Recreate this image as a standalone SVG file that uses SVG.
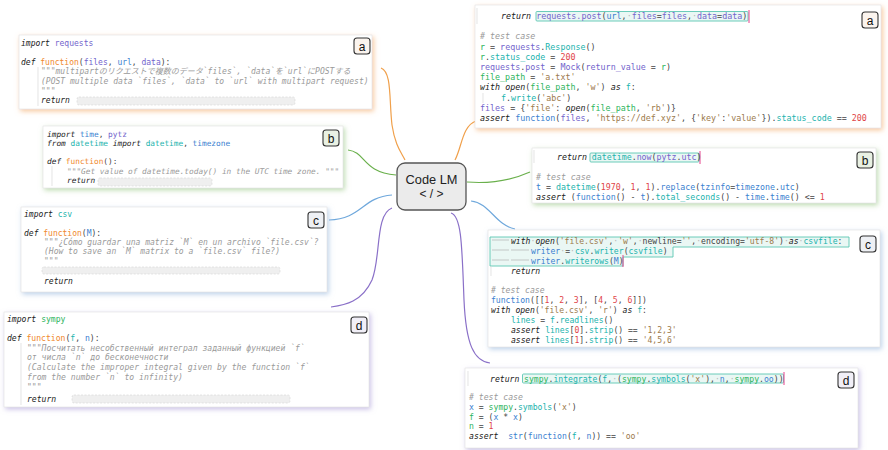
<svg xmlns="http://www.w3.org/2000/svg" width="888" height="450" viewBox="0 0 888 450">
<style>
text{white-space:pre}
.code{font-family:"DejaVu Sans Mono","Noto Sans CJK JP",monospace;fill:#444}
.k{font-style:italic;fill:#1a1a1a}
.c{font-style:italic;fill:#9a9a9a}
.fn{fill:#f0882c}
.pu{fill:#7264cc}
.bl{fill:#3b7fd0}
.gr{fill:#2cb45c}
.te{fill:#21b3ad}
.st{fill:#9c7a4c}
.nm{fill:#e04448}
.dt{fill:#b8b8b8}
.panel{fill:#fff;stroke:#e2e2e2;stroke-width:.6}
.ph{fill:#efefef;stroke:#d3d3d3;stroke-width:.6;stroke-dasharray:2 1.5}
.hl{fill:#eaf7f4;stroke:#5cc6b2;stroke-width:.9}
.cur{stroke:#e5428c;stroke-width:1}
.guide{stroke:#d8d8d8;stroke-width:.7}
.tab{stroke:#aaa;stroke-width:.6}
.lab rect{stroke:#333;stroke-width:1.1}
.lab text{font-family:"Liberation Sans",Arial,sans-serif;font-size:12px;fill:#111;text-anchor:middle}
.conn path{fill:none;stroke-width:1.2}
</style>
<defs>
<filter id="shO" x="-10%" y="-20%" width="120%" height="140%"><feDropShadow dx="1.5" dy="2" stdDeviation="2.5" flood-color="#f2a35c" flood-opacity=".6"/></filter>
<filter id="shG" x="-10%" y="-20%" width="120%" height="140%"><feDropShadow dx="1.5" dy="2" stdDeviation="2.5" flood-color="#93c47d" flood-opacity=".6"/></filter>
<filter id="shB" x="-10%" y="-20%" width="120%" height="140%"><feDropShadow dx="1.5" dy="2" stdDeviation="2.5" flood-color="#8fb3dc" flood-opacity=".6"/></filter>
<filter id="shP" x="-10%" y="-20%" width="120%" height="140%"><feDropShadow dx="1.5" dy="2" stdDeviation="2.5" flood-color="#a796d6" flood-opacity=".6"/></filter>
</defs>

<g id="connectors" class="conn">
<path d="M381,68 C392,72 389,100 392,125 C395,145 401,152 405,160" stroke="#f0a04b"/>
<path d="M455,160 C462,147 462,126 476,121" stroke="#f0a04b"/>
<path d="M348,150 C366,152 362,172 396,175" stroke="#6ab04c"/>
<path d="M467,182 C492,184 512,180 530,172" stroke="#6ab04c"/>
<path d="M329,220 C362,219 362,197 392,195" stroke="#6fa8dc"/>
<path d="M471,201 C490,203 495,225 515,229" stroke="#6fa8dc"/>
<path d="M392,208 C375,214 381,258 372,280 C362,302 345,305 331,307" stroke="#8a70c8"/>
<path d="M451,213 C462,216 462,250 464,300 C466,345 474,361 490,363" stroke="#8a70c8"/>
</g>

<g id="center">
<rect x="397" y="163" width="69" height="47" rx="8" fill="#ebebeb" stroke="#555" stroke-width="1.3"/>
<text x="431.5" y="184" font-family="Liberation Sans, Arial, sans-serif" font-size="12.8" fill="#222" text-anchor="middle">Code LM</text>
<text x="431.5" y="198" font-family="Liberation Sans, Arial, sans-serif" font-size="12" fill="#222" text-anchor="middle">&lt; / &gt;</text>
</g>

<g id="left-a">
<rect class="panel" x="19" y="35" width="353" height="74" filter="url(#shO)"/>
<line class="guide" x1="38" y1="67" x2="38" y2="106"/>
<g class="code" font-size="8">
<text x="21" y="46"><tspan class="k">import</tspan> <tspan class="pu">requests</tspan></text>
<text x="21" y="65"><tspan class="k">def</tspan> <tspan class="fn">function</tspan>(<tspan class="pu">files</tspan>, <tspan class="bl">url</tspan>, <tspan class="pu">data</tspan>):</text>
<text x="41" y="74" class="c">"""multipartのリクエストで複数のデータ`files`, `data`を`url`にPOSTする</text>
<text x="41" y="84" class="c">(POST multiple data `files`, `data` to `url` with multipart request)</text>
<text x="41" y="93.5" class="c">"""</text>
<text x="41" y="103"><tspan class="k">return</tspan></text>
</g>
<rect class="ph" x="77" y="97" width="218" height="8" rx="2"/>
<g class="lab"><rect x="354" y="38" width="16" height="16" rx="3" fill="#fbf4ee"/><text x="362" y="50.5">a</text></g>
</g>

<g id="left-b">
<rect class="panel" x="43" y="126" width="300" height="62" filter="url(#shG)"/>
<line class="guide" x1="52" y1="166" x2="52" y2="186"/>
<g class="code" font-size="7.8">
<text x="47" y="137"><tspan class="k">import</tspan> <tspan class="bl">time</tspan>, <tspan class="pu">pytz</tspan></text>
<text x="47" y="146"><tspan class="k">from</tspan> <tspan class="te">datetime</tspan> <tspan class="k">import</tspan> <tspan class="te">datetime</tspan>, <tspan class="bl">timezone</tspan></text>
<text x="47" y="164"><tspan class="k">def</tspan> <tspan class="fn">function</tspan>():</text>
<text x="67" y="174" class="c">"""Get value of datetime.today() in the UTC time zone. """</text>
<text x="67" y="183"><tspan class="k">return</tspan></text>
</g>
<rect class="ph" x="98" y="178" width="114" height="8" rx="2"/>
<g class="lab"><rect x="323" y="130" width="16" height="16" rx="3" fill="#e9f1e3"/><text x="331" y="142.5">b</text></g>
</g>

<g id="left-c">
<rect class="panel" x="21" y="207" width="306" height="85" filter="url(#shB)"/>
<g class="code" font-size="8">
<text x="24" y="217"><tspan class="k">import</tspan> <tspan class="te">csv</tspan></text>
<text x="24" y="236"><tspan class="k">def</tspan> <tspan class="fn">function</tspan>(<tspan class="bl">M</tspan>):</text>
<text x="44" y="245" class="c">"""¿Cómo guardar una matriz `M` en un archivo `file.csv`?</text>
<text x="44" y="254" class="c">(How to save an `M` matrix to a `file.csv` file?)</text>
<text x="44" y="263.5" class="c">"""</text>
<text x="44" y="284"><tspan class="k">return</tspan></text>
</g>
<rect class="ph" x="42" y="267" width="238" height="7" rx="2"/>
<g class="lab"><rect x="308" y="212" width="16" height="16" rx="3" fill="#eef0f4"/><text x="316" y="224.5">c</text></g>
</g>

<g id="left-d">
<rect class="panel" x="4" y="312" width="365" height="95" filter="url(#shP)"/>
<line class="guide" x1="21" y1="343" x2="21" y2="405"/>
<g class="code" font-size="8.1">
<text x="7" y="322"><tspan class="k">import</tspan> <tspan class="gr">sympy</tspan></text>
<text x="7" y="341"><tspan class="k">def</tspan> <tspan class="fn">function</tspan>(<tspan class="te">f</tspan>, <tspan class="bl">n</tspan>):</text>
<text x="27" y="351" class="c">"""Посчитать несобственный интеграл заданный функцией `f`</text>
<text x="27" y="360" class="c">от числа `n` до бесконечности</text>
<text x="27" y="370" class="c">(Calculate the improper integral given by the function `f`</text>
<text x="27" y="379.5" class="c">from the number `n` to infinity)</text>
<text x="27" y="389.5" class="c">"""</text>
<text x="27" y="402"><tspan class="k">return</tspan></text>
</g>
<rect class="ph" x="72" y="395" width="218" height="8" rx="2"/>
<g class="lab"><rect x="351" y="317" width="16" height="16" rx="3" fill="#f1eff7"/><text x="359" y="329.5">d</text></g>
</g>

<g id="right-a">
<rect class="panel" x="475" y="5" width="406" height="123" filter="url(#shO)"/>
<line class="guide" x1="477" y1="8" x2="477" y2="24"/>
<line class="guide" x1="483" y1="93" x2="483" y2="103"/>
<rect class="hl" x="536" y="11.5" width="212" height="9.5" rx="1"/>
<line class="cur" x1="749" y1="10" x2="749" y2="23"/>
<g class="code" font-size="8.35">
<text x="501" y="18.5"><tspan class="k">return</tspan> <tspan class="pu">requests.post</tspan>(<tspan class="bl">url</tspan>,<tspan class="dt">·</tspan><tspan class="pu">files</tspan>=<tspan class="pu">files</tspan>,<tspan class="dt">·</tspan><tspan class="pu">data</tspan>=<tspan class="pu">data</tspan>)</text>
<text x="480" y="39" class="c"># test case</text>
<text x="480" y="49.5"><tspan class="gr">r</tspan> = <tspan class="pu">requests</tspan>.<tspan class="te">Response</tspan>()</text>
<text x="480" y="59.5"><tspan class="gr">r</tspan>.<tspan class="te">status_code</tspan> = <tspan class="nm">200</tspan></text>
<text x="480" y="70"><tspan class="pu">requests</tspan>.<tspan class="pu">post</tspan> = <tspan class="pu">Mock</tspan>(<tspan class="pu">return_value</tspan> = <tspan class="gr">r</tspan>)</text>
<text x="480" y="80"><tspan class="gr">file_path</tspan> = <tspan class="st">'a.txt'</tspan></text>
<text x="480" y="90"><tspan class="k">with</tspan> <tspan class="k">open</tspan>(<tspan class="gr">file_path</tspan>, <tspan class="st">'w'</tspan>) <tspan class="k">as</tspan> <tspan class="te">f</tspan>:</text>
<text x="501" y="100.5"><tspan class="te">f</tspan>.<tspan class="te">write</tspan>(<tspan class="st">'abc'</tspan>)</text>
<text x="480" y="111"><tspan class="pu">files</tspan> = {<tspan class="st">'file'</tspan>: <tspan class="k">open</tspan>(<tspan class="gr">file_path</tspan>, <tspan class="st">'rb'</tspan>)}</text>
<text x="480" y="121"><tspan class="k">assert</tspan> <tspan class="bl">function</tspan>(<tspan class="pu">files</tspan>, <tspan class="st">'https://def.xyz'</tspan>, {<tspan class="st">'key'</tspan>:<tspan class="st">'value'</tspan>}).<tspan class="te">status_code</tspan> == <tspan class="nm">200</tspan></text>
</g>
<g class="lab"><rect x="862" y="12" width="16" height="16" rx="3" fill="#fbf4ee"/><text x="870" y="24.5">a</text></g>
</g>

<g id="right-b">
<rect class="panel" x="532" y="148" width="344" height="55" filter="url(#shG)"/>
<line class="guide" x1="534" y1="150" x2="534" y2="163"/>
<rect class="hl" x="590" y="153" width="109" height="9" rx="1"/>
<line class="cur" x1="700" y1="151" x2="700" y2="164"/>
<g class="code" font-size="8.27">
<text x="557" y="160"><tspan class="k">return</tspan> <tspan class="te">datetime</tspan>.<tspan class="pu">now</tspan>(<tspan class="pu">pytz</tspan>.<tspan class="pu">utc</tspan>)</text>
<text x="536" y="180" class="c"># test case</text>
<text x="536" y="190"><tspan class="bl">t</tspan> = <tspan class="te">datetime</tspan>(<tspan class="nm">1970</tspan>, <tspan class="nm">1</tspan>, <tspan class="nm">1</tspan>).<tspan class="bl">replace</tspan>(<tspan class="bl">tzinfo</tspan>=<tspan class="bl">timezone</tspan>.<tspan class="bl">utc</tspan>)</text>
<text x="536" y="199.5"><tspan class="k">assert</tspan> (<tspan class="bl">function</tspan>() - <tspan class="bl">t</tspan>).<tspan class="te">total_seconds</tspan>() - <tspan class="bl">time</tspan>.<tspan class="bl">time</tspan>() &lt;= <tspan class="nm">1</tspan></text>
</g>
<g class="lab"><rect x="857" y="152" width="16" height="16" rx="3" fill="#e9f1e3"/><text x="865" y="164.5">b</text></g>
</g>

<g id="right-c">
<rect class="panel" x="488" y="230" width="392" height="117" filter="url(#shB)"/>
<path class="hl" d="M490,237 H849 V247 H673 V257 H623 V266 H490 Z"/>
<line class="tab" x1="492" y1="240" x2="509" y2="240"/>
<line class="tab" x1="492" y1="250" x2="509" y2="250"/>
<line class="tab" x1="511" y1="250" x2="529" y2="250"/>
<line class="tab" x1="492" y1="260" x2="509" y2="260"/>
<line class="tab" x1="511" y1="260" x2="529" y2="260"/>
<line class="guide" x1="491" y1="266" x2="491" y2="276"/>
<line class="cur" x1="623" y1="255" x2="623" y2="267"/>
<g class="code" font-size="8.1">
<text x="511" y="243.5"><tspan class="k">with</tspan><tspan class="dt">·</tspan><tspan class="k">open</tspan>(<tspan class="st">'file.csv'</tspan>,<tspan class="dt">·</tspan><tspan class="st">'w'</tspan>,<tspan class="dt">·</tspan>newline=<tspan class="st">''</tspan>,<tspan class="dt">·</tspan>encoding=<tspan class="st">'utf-8'</tspan>)<tspan class="dt">·</tspan><tspan class="k">as</tspan><tspan class="dt">·</tspan><tspan class="te">csvfile</tspan>:</text>
<text x="531" y="253.5"><tspan class="bl">writer</tspan><tspan class="dt">·</tspan>=<tspan class="dt">·</tspan><tspan class="te">csv</tspan>.<tspan class="te">writer</tspan>(<tspan class="te">csvfile</tspan>)</text>
<text x="531" y="263.5"><tspan class="bl">writer</tspan>.<tspan class="te">writerows</tspan>(<tspan class="bl">M</tspan>)</text>
<text x="511" y="273.5"><tspan class="k">return</tspan></text>
<text x="491" y="293" class="c"># test case</text>
<text x="491" y="302.5"><tspan class="bl">function</tspan>([[<tspan class="nm">1</tspan>, <tspan class="nm">2</tspan>, <tspan class="nm">3</tspan>], [<tspan class="nm">4</tspan>, <tspan class="nm">5</tspan>, <tspan class="nm">6</tspan>]])</text>
<text x="491" y="312.5"><tspan class="k">with</tspan> <tspan class="k">open</tspan>(<tspan class="st">'file.csv'</tspan>, <tspan class="st">'r'</tspan>) <tspan class="k">as</tspan> <tspan class="te">f</tspan>:</text>
<text x="511" y="322.5"><tspan class="te">lines</tspan> = <tspan class="te">f</tspan>.<tspan class="te">readlines</tspan>()</text>
<text x="511" y="332.5"><tspan class="k">assert</tspan> <tspan class="te">lines</tspan>[<tspan class="nm">0</tspan>].<tspan class="te">strip</tspan>() == <tspan class="st">'1,2,3'</tspan></text>
<text x="511" y="342.5"><tspan class="k">assert</tspan> <tspan class="te">lines</tspan>[<tspan class="nm">1</tspan>].<tspan class="te">strip</tspan>() == <tspan class="st">'4,5,6'</tspan></text>
</g>
<g class="lab"><rect x="860" y="236" width="16" height="16" rx="3" fill="#eef0f4"/><text x="868" y="248.5">c</text></g>
</g>

<g id="right-d">
<rect class="panel" x="465" y="368" width="393" height="80" filter="url(#shP)"/>
<line class="guide" x1="468" y1="371" x2="468" y2="386"/>
<rect class="hl" x="522.5" y="374" width="261" height="9" rx="1"/>
<line class="cur" x1="784" y1="372" x2="784" y2="385"/>
<g class="code" font-size="8.14">
<text x="490" y="381.5"><tspan class="k">return</tspan></text>
<text x="524" y="381.5"><tspan class="gr">sympy</tspan>.<tspan class="te">integrate</tspan>(<tspan class="te">f</tspan>,<tspan class="dt">·</tspan>(<tspan class="gr">sympy</tspan>.<tspan class="te">symbols</tspan>(<tspan class="st">'x'</tspan>),<tspan class="dt">·</tspan><tspan class="bl">n</tspan>,<tspan class="dt">·</tspan><tspan class="gr">sympy</tspan>.<tspan class="bl">oo</tspan>))</text>
<text x="469" y="400" class="c"># test case</text>
<text x="469" y="410"><tspan class="bl">x</tspan> = <tspan class="gr">sympy</tspan>.<tspan class="te">symbols</tspan>(<tspan class="st">'x'</tspan>)</text>
<text x="469" y="419.5"><tspan class="gr">f</tspan> = (<tspan class="bl">x</tspan> * <tspan class="bl">x</tspan>)</text>
<text x="469" y="428.5"><tspan class="gr">n</tspan> = <tspan class="nm">1</tspan></text>
<text x="469" y="438.5"><tspan class="k">assert</tspan>  <tspan class="bl">str</tspan>(<tspan class="bl">function</tspan>(<tspan class="te">f</tspan>, <tspan class="bl">n</tspan>)) == <tspan class="st">'oo'</tspan></text>
</g>
<g class="lab"><rect x="838" y="372" width="16" height="16" rx="3" fill="#f1eff7"/><text x="846" y="384.5">d</text></g>
</g>
</svg>
